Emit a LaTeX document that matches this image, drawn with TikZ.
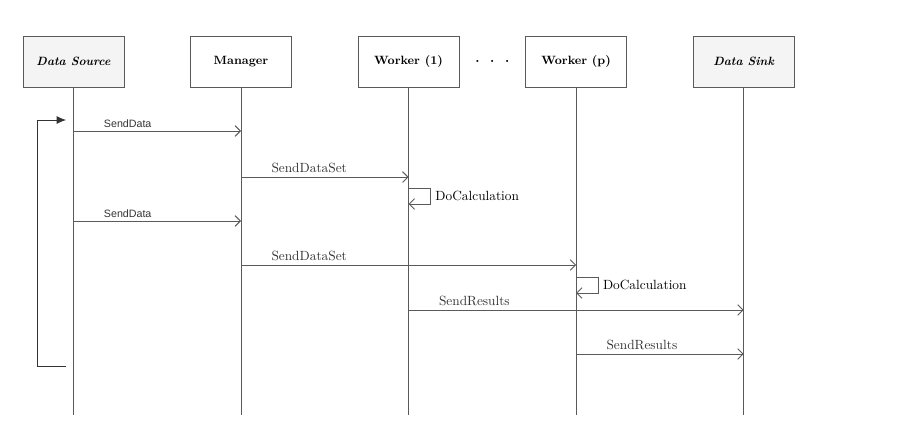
\documentclass[tikz,border=0pt]{standalone}
\usepackage{fontspec}
\newfontfamily\arialfont{Liberation Sans}
\usetikzlibrary{arrows.meta, positioning, calc}
\definecolor{linegray}{RGB}{90,90,90}
\definecolor{actorfill}{RGB}{244,244,244}
\tikzset{
  actor/.style    = {draw=linegray, line width=0.7pt, fill=white, minimum width=75.75pt,
                     minimum height=38.25pt, inner sep=0pt, font=\small\bfseries},
  extactor/.style = {actor, fill=actorfill, font=\small\bfseries\itshape},
  lifeline/.style = {draw=linegray, line width=0.7pt},
  msg/.style      = {-{Straight Barb[length=4pt, width=8pt]}, draw=linegray, line width=0.7pt},
  msglbl/.style   = {pos=0, anchor=south west, xshift=20pt, inner sep=2.5pt, text=black!80},
  sdlbl/.style    = {msglbl, font=\arialfont\footnotesize},
  loopback/.style = {-{Latex[length=7pt, width=6pt]}, draw=black!80, line width=0.7pt},
}

\begin{document}
\begin{tikzpicture}[x=0.75pt, y=-0.75pt, node distance=49.2pt]
  \useasboundingbox (0,0) rectangle (921,432);

  % participants
  \node[extactor] (src) at (73.5,61.5) {Data Source};
  \node[actor, right=of src] (mgr) {Manager};
  \node[actor, right=of mgr] (w1) {Worker (1)};
  \node[actor, right=of w1] (wp) {Worker (p)};
  \node[extactor, right=of wp] (sink) {Data Sink};
  \node[font=\bfseries] (dots) at ($(w1.east)!0.5!(wp.west)$) {.\hspace{8pt}.\hspace{8pt}.};

  % lifelines
  \coordinate (bot) at (0,415);
  \foreach \p in {src, mgr, w1, wp, sink}
    \draw[lifeline] (\p.south) -- (\p.south |- bot);

  % message rows
  \coordinate (r1) at (0,131);
  \coordinate (r2) at (0,177);
  \coordinate (r3) at (0,188);
  \coordinate (r4) at (0,221);
  \coordinate (r5) at (0,265);
  \coordinate (r6) at (0,277);
  \coordinate (r7) at (0,310);
  \coordinate (r8) at (0,354);

  \draw[msg] (src |- r1) -- node[sdlbl] {SendData} (mgr |- r1);
  \draw[msg] (mgr |- r2) -- node[msglbl] {SendDataSet} (w1 |- r2);
  \draw[msg] (w1 |- r3) -- ++(22,0) -- ++(0,16) node[midway, right] {DoCalculation} -- ++(-22,0);
  \draw[msg] (src |- r4) -- node[sdlbl] {SendData} (mgr |- r4);
  \draw[msg] (mgr |- r5) -- node[msglbl] {SendDataSet} (wp |- r5);
  \draw[msg] (wp |- r6) -- ++(22,0) -- ++(0,16) node[midway, right] {DoCalculation} -- ++(-22,0);
  \draw[msg] (w1 |- r7) -- node[msglbl] {SendResults} (sink |- r7);
  \draw[msg] (wp |- r8) -- node[msglbl] {SendResults} (sink |- r8);

  % repeat loop on the source
  \coordinate (loopbot) at (66,366);
  \coordinate (looptop) at (66,120);
  \draw[loopback] (loopbot) -- ++(-29,0) |- (looptop);
\end{tikzpicture}
\end{document}
